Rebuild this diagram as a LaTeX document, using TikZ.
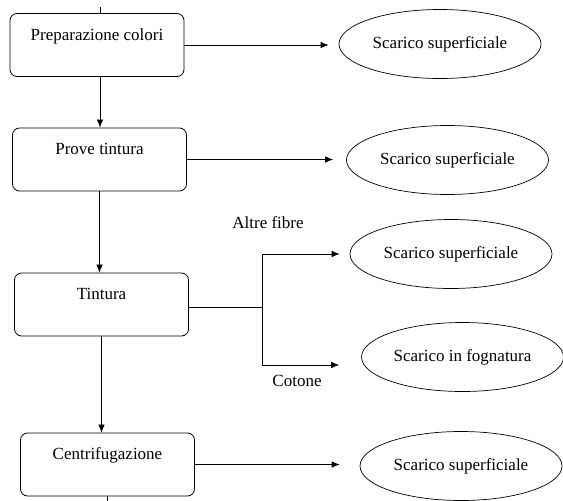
\documentclass[tikz,border=0pt]{standalone}
\usepackage{fontspec}
\setmainfont{Liberation Serif}
\usetikzlibrary{shapes.geometric, arrows.meta}
\tikzset{
  processo/.style={draw, rectangle, rounded corners=7pt, line width=0.8pt, minimum width=174pt, minimum height=63pt, align=center, inner sep=0pt},
  scarico/.style={draw, ellipse, line width=0.7pt, minimum width=202pt, minimum height=69pt, inner sep=0pt},
  freccia/.style={->, >={Latex[length=8pt,width=6.5pt]}, line width=0.7pt}
}
\begin{document}
\begin{tikzpicture}[x=1pt, y=-1pt, font=\fontsize{17}{21}\selectfont]
        \useasboundingbox (0,0) rectangle (563,501);
        \node[processo] at (97,45) (prep) {Preparazione colori\\~};
        \node[processo] at (99.5,159.5) (prove) {Prove tintura\\~};
        \node[processo] at (101.5,304.5) (tint) {Tintura\\~};
        \node[processo] at (107.5,464.5) (centr) {Centrifugazione\\~};
        \node[scarico] at (440,44) (sup1) {Scarico superficiale};
        \node[scarico] at (447.5,160) (sup2) {Scarico superficiale};
        \node[scarico] at (451,254) (sup3) {Scarico superficiale};
        \node[scarico] at (462.5,357) (fogn) {Scarico in fognatura};
        \node[scarico] at (461,466) (sup4) {Scarico superficiale};
        \node at (268,223) (altre) {Altre fibre};
        \node at (297,381) (cotone) {Cotone};
        \coordinate (ingresso) at (100,7);
        \coordinate (uscita) at (107,501);
        \coordinate (bivio) at (262,307);
        % linea principale
        \draw[line width=0.7pt] (ingresso) -- (ingresso |- prep.north);
        \draw[freccia] (prep.south -| ingresso) -- (ingresso |- prove.north);
        \draw[freccia] (prove.south) -- (prove.south |- tint.north);
        \draw[freccia] (tint.south) -- (tint.south |- centr.north);
        \draw[line width=0.7pt] (centr.south -| uscita) -- (uscita);
        % scarichi
        \draw[freccia, shorten >=10pt] (prep.east) -- (prep.east -| sup1.west);
        \draw[freccia, shorten >=13pt] (prove.east) -- (prove.east -| sup2.west);
        \draw[line width=0.7pt] (tint.east |- bivio) -- (bivio);
        \draw[freccia, shorten >=10pt] (bivio) |- (sup3.west);
        \draw[freccia, shorten >=22pt] (bivio) |- ([yshift=-8pt]fogn.west);
        \draw[freccia, shorten >=20pt] (centr.east) -- (centr.east -| sup4.west);
\end{tikzpicture}
\end{document}
